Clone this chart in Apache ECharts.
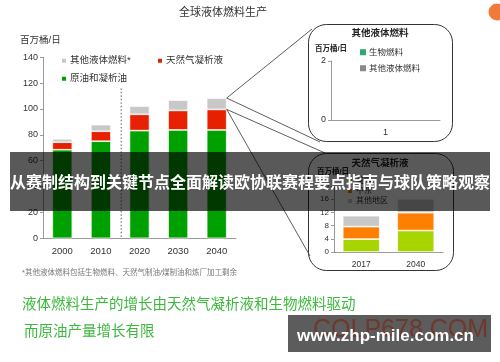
<!DOCTYPE html>
<html>
<head>
<meta charset="utf-8">
<script src="https://cdn.jsdelivr.net/npm/echarts@6/dist/echarts.min.js"></script>
<style>
html, body { margin: 0; padding: 0; background: #fff; }
#chart { width: 500px; height: 362px; }
</style>
</head>
<body>
<div id="chart"></div>
<script>
// 全球液体燃料生产（百万桶/日）
var years = ['2000', '2010', '2020', '2030', '2040']
var crudeOil = [68.5, 75.1, 83.3, 83.8, 83.8]
var ngl = [5.8, 7.7, 12.6, 15.1, 15.9]
var otherLiquids = [2.6, 5.1, 6.4, 8.0, 8.8]
var mainTicks = [0, 20, 40, 60, 80, 100, 120, 140]

// 小图一：其他液体燃料（图中为空）
var inset1Cats = ['1']
var bioFuel = [0]
var otherFuel = [0]
var inset1Ticks = [0, 2]

// 小图二：天然气凝析液
var nglYears = ['2017', '2040']
var nglUS = [3.9, 6.5]
var nglMidEast = [3.8, 5.4]
var nglOther = [3.3, 4.2]
var inset2Ticks = [0, 4, 8, 12, 16, 20]

var FONT = '"Liberation Sans", "Noto Sans CJK SC", sans-serif'

const myChart = echarts.init(document.getElementById('chart'))

function yAxisOf(grid, ticks, size) {
  return {
    type: 'value', gridIndex: grid,
    min: ticks[0], max: ticks[ticks.length - 1], interval: ticks[1] - ticks[0],
    axisLine: { show: true, lineStyle: { color: '#9a9a9a' } },
    axisTick: { show: true, length: 3, lineStyle: { color: '#9a9a9a' } },
    splitLine: { show: false },
    axisLabel: { fontSize: size, color: '#333', margin: 5, fontFamily: FONT }
  }
}

function xAxisOf(grid, cats, size) {
  return {
    type: 'category', gridIndex: grid, data: cats,
    axisLine: { lineStyle: { color: '#9a9a9a' } },
    axisTick: { show: false },
    axisLabel: { fontSize: size, color: '#333', margin: 8, fontFamily: FONT }
  }
}

function legendAt(name, left, top, size) {
  return {
    data: [name], left: left, top: top, orient: 'horizontal',
    itemWidth: 6, itemHeight: 6, itemGap: 0, icon: 'rect', selectedMode: false,
    padding: 0,
    textStyle: { fontSize: size, color: '#333', fontFamily: FONT, padding: [0, 0, 0, -2] }
  }
}

const option = {
  animation: false,
  textStyle: { fontFamily: FONT },
  grid: [
    { left: 43, top: 57.3, width: 193, height: 181 },
    { left: 331, top: 61, width: 109, height: 59 },
    { left: 334, top: 186, width: 109, height: 66 }
  ],
  xAxis: [xAxisOf(0, years, 9.5), xAxisOf(1, inset1Cats, 9), xAxisOf(2, nglYears, 8.5)],
  yAxis: [yAxisOf(0, mainTicks, 9), yAxisOf(1, inset1Ticks, 9), yAxisOf(2, inset2Ticks, 8)],
  legend: [
    legendAt('其他液体燃料*', 60, 56, 9.5),
    legendAt('天然气凝析液', 156, 56, 9.5),
    legendAt('原油和凝析油', 60, 74, 9.5),
    legendAt('生物燃料', 360, 48, 8.5),
    legendAt('其他液体燃料', 360, 64, 8.5),
    legendAt('美国', 346, 177, 8),
    legendAt('中东', 346, 187, 8),
    legendAt('其他地区', 346, 197, 8)
  ],
  series: [
    // 主图
    { name: '原油和凝析油', type: 'bar', stack: 'main', xAxisIndex: 0, yAxisIndex: 0, data: crudeOil,
      barWidth: 20, itemStyle: { color: '#00a000', borderColor: '#fff', borderWidth: 0.7 } },
    { name: '天然气凝析液', type: 'bar', stack: 'main', xAxisIndex: 0, yAxisIndex: 0, data: ngl,
      barWidth: 20, itemStyle: { color: '#e62000', borderColor: '#fff', borderWidth: 0.7 } },
    { name: '其他液体燃料*', type: 'bar', stack: 'main', xAxisIndex: 0, yAxisIndex: 0, data: otherLiquids,
      barWidth: 20, itemStyle: { color: '#c8c8c8', borderColor: '#fff', borderWidth: 0.7 } },
    // 小图一
    { name: '生物燃料', type: 'bar', stack: 'i1', xAxisIndex: 1, yAxisIndex: 1, data: bioFuel,
      barWidth: 30, itemStyle: { color: '#2eaa6a' } },
    { name: '其他液体燃料', type: 'bar', stack: 'i1', xAxisIndex: 1, yAxisIndex: 1, data: otherFuel,
      barWidth: 30, itemStyle: { color: '#8a8a8a' } },
    // 小图二
    { name: '美国', type: 'bar', stack: 'i2', xAxisIndex: 2, yAxisIndex: 2, data: nglUS,
      barWidth: 37, itemStyle: { color: '#a8d400', borderColor: '#fff', borderWidth: 0.7 } },
    { name: '中东', type: 'bar', stack: 'i2', xAxisIndex: 2, yAxisIndex: 2, data: nglMidEast,
      barWidth: 37, itemStyle: { color: '#ff7f00', borderColor: '#fff', borderWidth: 0.7 } },
    { name: '其他地区', type: 'bar', stack: 'i2', xAxisIndex: 2, yAxisIndex: 2, data: nglOther,
      barWidth: 37, itemStyle: { color: '#c8c8c8', borderColor: '#fff', borderWidth: 0.7 } }
  ]
}

myChart.setOption(option)

// 引线和虚线根据坐标轴换算位置
const last = years.length - 1
const grayTop = myChart.convertToPixel({ xAxisIndex: 0, yAxisIndex: 0 },
  [last, crudeOil[last] + ngl[last] + otherLiquids[last]])
const redTop = myChart.convertToPixel({ xAxisIndex: 0, yAxisIndex: 0 },
  [last, crudeOil[last] + ngl[last]])
const barEdge = grayTop[0] + 10
const xa = myChart.convertToPixel({ xAxisIndex: 0 }, 1)
const xb = myChart.convertToPixel({ xAxisIndex: 0 }, 2)
const dashX = (xa + xb) / 2 + 1
const dashTop = myChart.convertToPixel({ yAxisIndex: 0 }, 116)
const dashBottom = myChart.convertToPixel({ yAxisIndex: 0 }, 0)

function txt(text, x, y, size, color, extra) {
  return {
    type: 'text', z: 10,
    style: Object.assign({
      text: text, x: x, y: y, fill: color,
      fontSize: size, fontFamily: FONT, fontWeight: 'normal',
      align: 'left', verticalAlign: 'middle',
      textAlign: 'left', textVerticalAlign: 'middle'
    }, extra || {})
  }
}

function line(x1, y1, x2, y2, dash) {
  return {
    type: 'line', z: 5,
    shape: { x1: x1, y1: y1, x2: x2, y2: y2 },
    style: { stroke: '#333', lineWidth: 0.8, lineDash: dash || null }
  }
}

const center = { align: 'center', textAlign: 'center' }

const graphic = [
  txt('全球液体燃料生产', 223, 13, 11, '#333', center),
  txt('百万桶/日', 20, 40, 9.5, '#333'),
  // 小图框
  { type: 'rect', z: 4, shape: { x: 308.5, y: 24.5, width: 144, height: 117, r: 18 },
    style: { fill: null, stroke: '#333', lineWidth: 1 } },
  { type: 'rect', z: 4, shape: { x: 308.5, y: 153.5, width: 145, height: 117, r: 18 },
    style: { fill: null, stroke: '#333', lineWidth: 1 } },
  txt('其他液体燃料', 380, 33, 9.5, '#222', Object.assign({ fontWeight: 'bold' }, center)),
  txt('百万桶/日', 315, 49, 7.5, '#222', { fontWeight: 'bold' }),
  txt('天然气凝析液', 380, 163, 9.5, '#222', Object.assign({ fontWeight: 'bold' }, center)),
  txt('百万桶/日', 317, 172, 7.5, '#222', { fontWeight: 'bold' }),
  // 引线
  line(barEdge, grayTop[1], 312, 29),
  line(barEdge, grayTop[1], 320, 142),
  line(barEdge, redTop[1], 325, 153),
  line(barEdge, redTop[1], 310, 256),
  line(dashX, dashTop, dashX, dashBottom, [1.5, 2]),
  // 注释与结论
  txt('*其他液体燃料包括生物燃料、天然气制油/煤制油和炼厂加工剩余', 22, 273, 7.5, '#777'),
  txt('液体燃料生产的增长由天然气凝析液和生物燃料驱动', 22, 305, 14.5, '#3cb83c'),
  txt('而原油产量增长有限', 24, 332, 14.5, '#3cb83c'),
  // 覆盖横幅
  { type: 'rect', z: 100, shape: { x: 10, y: 152, width: 480, height: 59 },
    style: { fill: 'rgba(0,0,0,0.65)' } },
  Object.assign(txt('从赛制结构到关键节点全面解读欧协联赛程要点指南与球队策略观察', 250, 182, 16, '#fff',
    Object.assign({ fontWeight: 'bold', fontFamily: '"Noto Sans CJK SC", sans-serif' }, center)), { z: 101 }),
  // 水印
  { type: 'rect', z: 100, shape: { x: 288, y: 315, width: 203, height: 37 },
    style: { fill: '#5c5c5c' } },
  Object.assign(txt('COLP678.COM', 313, 330, 25, 'rgba(115,45,30,0.75)',
    { fontFamily: '"Liberation Sans", sans-serif' }), { z: 101 }),
  Object.assign(txt('www.zhp-mile.com.cn', 297, 336, 17, '#fff',
    { fontWeight: 'bold', fontFamily: '"Liberation Sans", sans-serif' }), { z: 102 }),
  { type: 'circle', z: 100, shape: { cx: 497, cy: 12, r: 8.5 }, style: { fill: '#f07a3a' } }
]

myChart.setOption({ graphic: graphic })
</script>
</body>
</html>
